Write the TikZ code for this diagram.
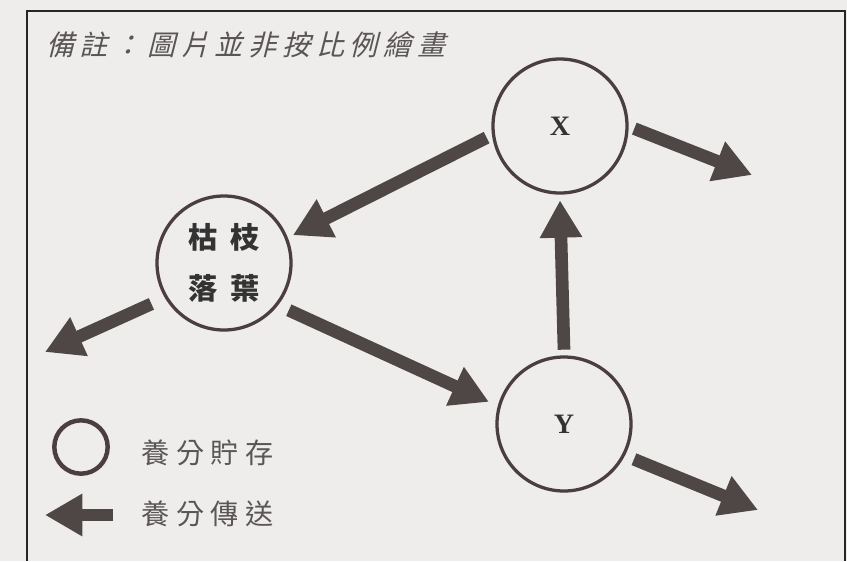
\documentclass[tikz,border=0pt]{standalone}
\usepackage{fontspec}
\newfontfamily\cjk{Noto Sans CJK TC}
\newfontfamily\serifx{Liberation Serif}
\usetikzlibrary{arrows.meta}
\definecolor{bggray}{HTML}{EEEDEB}
\definecolor{inkgray}{HTML}{4F4646}
\definecolor{ringgray}{HTML}{4A3E40}
\definecolor{notegray}{HTML}{5A5656}

\begin{document}
\begin{tikzpicture}[x=0.03cm,y=-0.03cm]
\tikzset{
    pool/.style={
       circle, draw=ringgray, line width=2.8pt,
       minimum size=4.02cm, inner sep=0pt, outer sep=0.22cm
    },
    flow/.style={
       draw=inkgray, line width=0.38cm,
       -{Triangle[width=1.2cm,length=1.12cm]}
    },
    note text/.style={
       text=notegray, inner sep=0pt,
       font=\cjk\fontsize{24}{26}\selectfont\addfontfeature{LetterSpace=24}
    }
}
%
\fill[bggray] (0,0) rectangle (847,561);
\useasboundingbox (0,0) rectangle (847,561);
\draw[line width=1.4pt, black!85] (27,561) -- (27,11) -- (845,11) -- (845,561);

\node[text=notegray, inner sep=0pt, anchor=west,
      font=\cjk\fontsize{24}{26}\selectfont\addfontfeature{FakeSlant=0.25,LetterSpace=20}]
      (note) at (46,45) {備註：圖片並非按比例繪畫};

\node[pool, text=black!80, font=\cjk\bfseries\fontsize{25}{44}\selectfont\addfontfeature{LetterSpace=42}, align=center]
      (litter) at (224,263) {枯枝\\落葉};
\node[pool, text=black!80, font=\serifx\bfseries\fontsize{24}{26}\selectfont] (x) at (560,126) {X};
\node[pool, text=black!80, font=\serifx\bfseries\fontsize{24}{26}\selectfont] (y) at (564,424) {Y};

\coordinate (litter out) at (45,352);
\coordinate (x out) at (752,175);
\coordinate (y out) at (758,510);

\draw[flow] (x.189) -- (litter.22);
\draw[flow, shorten <=0.18cm, shorten >=0.12cm] (litter.323) -- (y.164);
\draw[flow] (y.90) -- (x.270);
\draw[flow, shorten <=0.27cm] (litter.210) -- (litter out);
\draw[flow] (x.358) -- (x out);
\draw[flow, shorten <=0.12cm] (y.333) -- (y out);

% legend
\node[circle, draw=ringgray, line width=3.8pt, minimum size=1.6cm] (legpool) at (81,447) {};
\node[note text, anchor=west] (legstore) at (141,453) {養分貯存};
\coordinate (legtail) at (113,515);
\coordinate (legtip) at (45,515);
\draw[flow] (legtail) -- (legtip);
\node[note text, anchor=west] (legflow) at (141,514) {養分傳送};
\end{tikzpicture}
\end{document}
